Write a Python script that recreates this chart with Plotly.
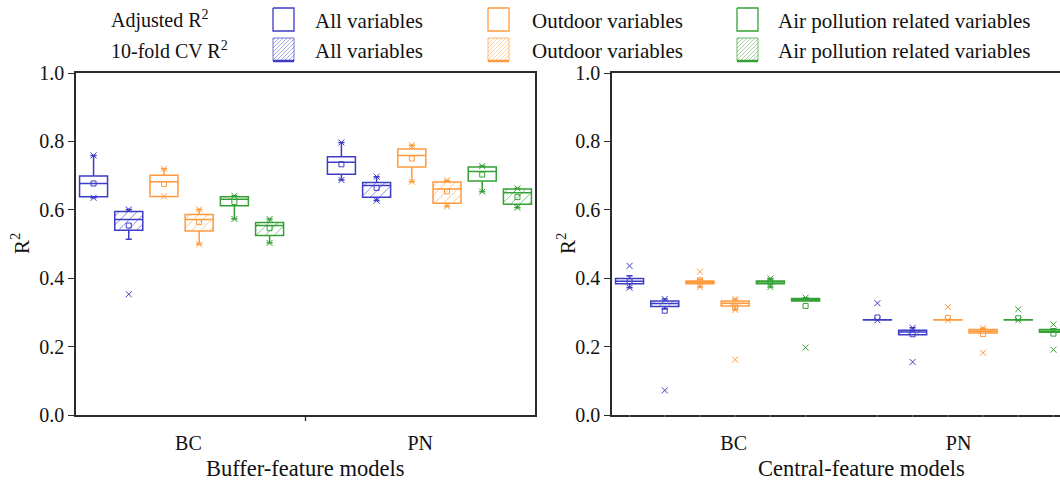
import plotly.graph_objects as go

# ---------------- data ----------------
categories = ["BC", "PN"]
model_labels = ["All variables", "Outdoor variables", "Air pollution related variables"]
row_labels = ["Adjusted R<sup>2</sup>", "10-fold CV R<sup>2</sup>"]
y_ticks = [0.0, 0.2, 0.4, 0.6, 0.8, 1.0]

# order within each category: All adj, All CV, Outdoor adj, Outdoor CV, Air adj, Air CV
buffer_q1 = [0.638, 0.540, 0.639, 0.538, 0.612, 0.525, 0.704, 0.637, 0.725, 0.619, 0.684, 0.616]
buffer_median = [0.677, 0.572, 0.682, 0.572, 0.631, 0.554, 0.739, 0.671, 0.759, 0.661, 0.712, 0.650]
buffer_q3 = [0.699, 0.595, 0.701, 0.586, 0.638, 0.563, 0.755, 0.680, 0.778, 0.681, 0.725, 0.661]
buffer_lower = [0.635, 0.514, 0.639, 0.499, 0.573, 0.503, 0.687, 0.627, 0.682, 0.610, 0.653, 0.606]
buffer_upper = [0.759, 0.601, 0.720, 0.601, 0.641, 0.573, 0.797, 0.697, 0.789, 0.686, 0.728, 0.663]
buffer_mean = [0.677, 0.554, 0.675, 0.564, 0.623, 0.546, 0.733, 0.664, 0.750, 0.654, 0.703, 0.637]
buffer_low_x = [0.635, 0.353, 0.639, 0.499, 0.573, 0.503, 0.687, 0.627, 0.682, 0.610, 0.653, 0.606]
buffer_high_x = [0.759, 0.601, 0.720, 0.601, 0.641, 0.573, 0.797, 0.697, 0.789, 0.686, 0.728, 0.663]
buffer_extra_x = [None] * 12

central_q1 = [0.384, 0.317, 0.384, 0.319, 0.384, 0.333, 0.2775, 0.235, 0.2775, 0.240, 0.2775, 0.242]
central_median = [0.391, 0.326, 0.388, 0.327, 0.389, 0.337, 0.278, 0.243, 0.278, 0.245, 0.278, 0.245]
central_q3 = [0.399, 0.333, 0.392, 0.333, 0.392, 0.341, 0.2785, 0.248, 0.2785, 0.250, 0.2785, 0.250]
central_lower = [0.372, 0.310, 0.374, 0.307, 0.374, 0.333, 0.2775, 0.235, 0.2775, 0.240, 0.2775, 0.242]
central_upper = [0.407, 0.339, 0.397, 0.339, 0.399, 0.343, 0.2785, 0.255, 0.2785, 0.254, 0.2785, 0.252]
central_mean = [0.391, 0.305, 0.394, 0.317, 0.390, 0.319, 0.285, 0.236, 0.284, 0.237, 0.283, 0.238]
central_low_x = [0.372, 0.072, 0.374, 0.162, 0.374, 0.197, 0.277, 0.155, 0.277, 0.182, 0.277, 0.191]
central_high_x = [0.436, 0.339, 0.419, 0.339, 0.399, 0.343, 0.327, 0.255, 0.316, 0.254, 0.309, 0.265]
central_extra_x = [None, None, None, 0.307, None, None, None, None, None, None, None, None]

# ---------------- style ----------------
W, H = 1060, 485
FONT = "Liberation Serif"
AX = "#2b2b2b"
TXT = "#111111"
BLUE, ORANGE, GREEN = "#3C3CC6", "#FF9A3C", "#35A035"
colors = [BLUE, BLUE, ORANGE, ORANGE, GREEN, GREEN]
hatched = [False, True, False, True, False, True]
cat_centers = [0.96, 2.04]
offsets = [(k - 2.5) * 0.1534 for k in range(6)]
box_w = 0.122
px_x = 229.5   # pixels per x unit
px_y = 342.0   # pixels per y unit


def hatch_segments(wpx, hpx, step):
    """45-degree '/' hatch inside a wpx x hpx rectangle, local pixel coords (v upwards)."""
    segs = []
    c = -hpx + step / 2
    while c < wpx:
        u0, u1 = max(0.0, c), min(wpx, hpx + c)
        if u1 > u0:
            segs.append(((u0, u0 - c), (u1, u1 - c)))
        c += step
    return segs


fig = go.Figure()


def add_panel(xa, ya, q1, med, q3, lo, hi, mean, lowx, highx, extra):
    for i in range(12):
        c, k = divmod(i, 6)
        pos = cat_centers[c] + offsets[k]
        col = colors[k]
        if hatched[k]:
            x0 = pos - box_w / 2
            hx, hy = [], []
            for (a, b) in hatch_segments(box_w * px_x, (q3[i] - q1[i]) * px_y, 9):
                hx += [x0 + a[0] / px_x, x0 + b[0] / px_x, None]
                hy += [q1[i] + a[1] / px_y, q1[i] + b[1] / px_y, None]
            if hx:
                fig.add_trace(go.Scatter(x=hx, y=hy, xaxis=xa, yaxis=ya, mode="lines",
                                         line=dict(color=col, width=1), opacity=0.6,
                                         hoverinfo="skip", showlegend=False))
        fig.add_trace(go.Box(
            x=[pos], q1=[q1[i]], median=[med[i]], q3=[q3[i]],
            lowerfence=[lo[i]], upperfence=[hi[i]], width=box_w,
            xaxis=xa, yaxis=ya, line=dict(color=col, width=1.5),
            fillcolor="rgba(0,0,0,0)", whiskerwidth=0.22,
            hoverinfo="skip", showlegend=False))
        fig.add_trace(go.Scatter(
            x=[pos], y=[mean[i]], xaxis=xa, yaxis=ya, mode="markers",
            marker=dict(symbol="square-open", size=5, color=col, line=dict(width=1, color=col)),
            hoverinfo="skip", showlegend=False))
        xs = [lowx[i], highx[i]] + ([extra[i]] if extra[i] is not None else [])
        fig.add_trace(go.Scatter(
            x=[pos] * len(xs), y=xs, xaxis=xa, yaxis=ya, mode="markers",
            marker=dict(symbol="x-thin", size=6, color=col, line=dict(width=1, color=col)),
            hoverinfo="skip", showlegend=False))


add_panel("x", "y", buffer_q1, buffer_median, buffer_q3, buffer_lower, buffer_upper,
          buffer_mean, buffer_low_x, buffer_high_x, buffer_extra_x)
add_panel("x2", "y2", central_q1, central_median, central_q3, central_lower, central_upper,
          central_mean, central_low_x, central_high_x, central_extra_x)

# ---------------- legend (pixel overlay axis) ----------------
sw_left = [273, 488, 737]
txt_left = [313, 530, 776]
rows_y = [(8, 31), (38, 61)]
row_text_y = [20, 50]
leg_cols = [BLUE, ORANGE, GREEN]
for r, (y0, y1) in enumerate(rows_y):
    for j in range(3):
        x0, x1 = sw_left[j], sw_left[j] + 21
        col = leg_cols[j]
        if r == 1:
            hx, hy = [], []
            for (a, b) in hatch_segments(x1 - x0, y1 - y0, 4):
                hx += [x0 + a[0], x0 + b[0], None]
                hy += [y1 - a[1], y1 - b[1], None]
            fig.add_trace(go.Scatter(x=hx, y=hy, xaxis="x3", yaxis="y3", mode="lines",
                                     line=dict(color=col, width=0.8), opacity=0.55,
                                     hoverinfo="skip", showlegend=False))
            fig.add_trace(go.Scatter(
                x=[x0, x1, x1, x0, x0], y=[y0, y0, y1, y1, y0], xaxis="x3", yaxis="y3",
                mode="lines", line=dict(color=col, width=1), opacity=0.7,
                hoverinfo="skip", showlegend=False))
            fig.add_trace(go.Scatter(
                x=[x0, x1], y=[y1, y1], xaxis="x3", yaxis="y3", mode="lines",
                line=dict(color=col, width=2.5), hoverinfo="skip", showlegend=False))
        else:
            fig.add_trace(go.Scatter(
                x=[x0, x1, x1, x0, x0], y=[y0, y0, y1, y1, y0], xaxis="x3", yaxis="y3",
                mode="lines", line=dict(color=col, width=1.3),
                hoverinfo="skip", showlegend=False))

annotations = []
for r in range(2):
    annotations.append(dict(text=row_labels[r], x=109 / W, y=1 - row_text_y[r] / H,
                            xref="paper", yref="paper", xanchor="left", yanchor="middle",
                            showarrow=False, font=dict(family=FONT, size=20, color=TXT)))
    for j in range(3):
        annotations.append(dict(text=model_labels[j], x=txt_left[j] / W, y=1 - (row_text_y[r] + 1) / H,
                                xref="paper", yref="paper", xanchor="left", yanchor="middle",
                                showarrow=False, font=dict(family=FONT, size=21, color=TXT)))

annotations += [
    dict(text="R<sup>2</sup>", x=20 / W, y=1 - 244 / H, xref="paper", yref="paper",
         xanchor="center", yanchor="middle",
         textangle=-90, showarrow=False, font=dict(family=FONT, size=21, color=TXT)),
    dict(text="R<sup>2</sup>", x=566 / W, y=1 - 244 / H, xref="paper", yref="paper",
         xanchor="center", yanchor="middle",
         textangle=-90, showarrow=False, font=dict(family=FONT, size=21, color=TXT)),
    dict(text="Buffer-feature models", x=305 / W, y=1 - 468 / H, xref="paper", yref="paper",
         xanchor="center", yanchor="middle",
         showarrow=False, font=dict(family=FONT, size=22.5, color=TXT)),
    dict(text="Central-feature models", x=861 / W, y=1 - 468 / H, xref="paper", yref="paper",
         xanchor="center", yanchor="middle",
         showarrow=False, font=dict(family=FONT, size=22.5, color=TXT)),
]

box_positions = [cat_centers[c] + offsets[k] for c in range(2) for k in range(6)]
shapes = [dict(type="line", xref="x", yref="y domain", x0=1.5, x1=1.5, y0=0, y1=-0.018,
               line=dict(color=AX, width=1.3))]
for p in box_positions:
    shapes.append(dict(type="line", xref="x2", yref="y2 domain", x0=p, x1=p, y0=0, y1=-0.006,
                       line=dict(color="#777", width=1)))

ydom = [1 - 415 / H, 1 - 73 / H]
common_y = dict(range=[0, 1], tickvals=y_ticks, tickformat=".1f", ticks="outside", ticklen=6,
                tickwidth=1.3, tickcolor=AX, showline=True, linecolor=AX, linewidth=1.5,
                showgrid=False, zeroline=False, domain=ydom, automargin=False,
                tickfont=dict(family=FONT, size=20, color=TXT))
common_x = dict(ticks="outside", ticklen=9, tickcolor="rgba(0,0,0,0)", showline=True,
                linecolor=AX, linewidth=1.5, mirror=True, showgrid=False, zeroline=False,
                automargin=False, tickfont=dict(family=FONT, size=20, color=TXT))

fig.update_layout(
    template="none",
    width=W, height=H, margin=dict(l=0, r=0, t=0, b=0, pad=0),
    paper_bgcolor="white", plot_bgcolor="rgba(0,0,0,0)", boxmode="overlay",
    xaxis=dict(domain=[76 / W, 535 / W], range=[0.5, 2.5], tickvals=[0.99, 2.0],
               ticktext=categories, anchor="y", **common_x),
    yaxis=dict(anchor="x", mirror=True, **common_y),
    xaxis2=dict(domain=[612 / W, 1.0], range=[0.5, 0.5 + (W - 612) / px_x],
                tickvals=[1.03, 2.01], ticktext=categories, anchor="y2", **common_x),
    yaxis2=dict(anchor="x2", mirror=False, **common_y),
    xaxis3=dict(domain=[0, 1], range=[0, W], visible=False, fixedrange=True, anchor="y3"),
    yaxis3=dict(domain=[0, 1], range=[H, 0], visible=False, fixedrange=True, anchor="x3"),
    annotations=annotations,
    shapes=shapes,
)

fig.write_html("out.html")
